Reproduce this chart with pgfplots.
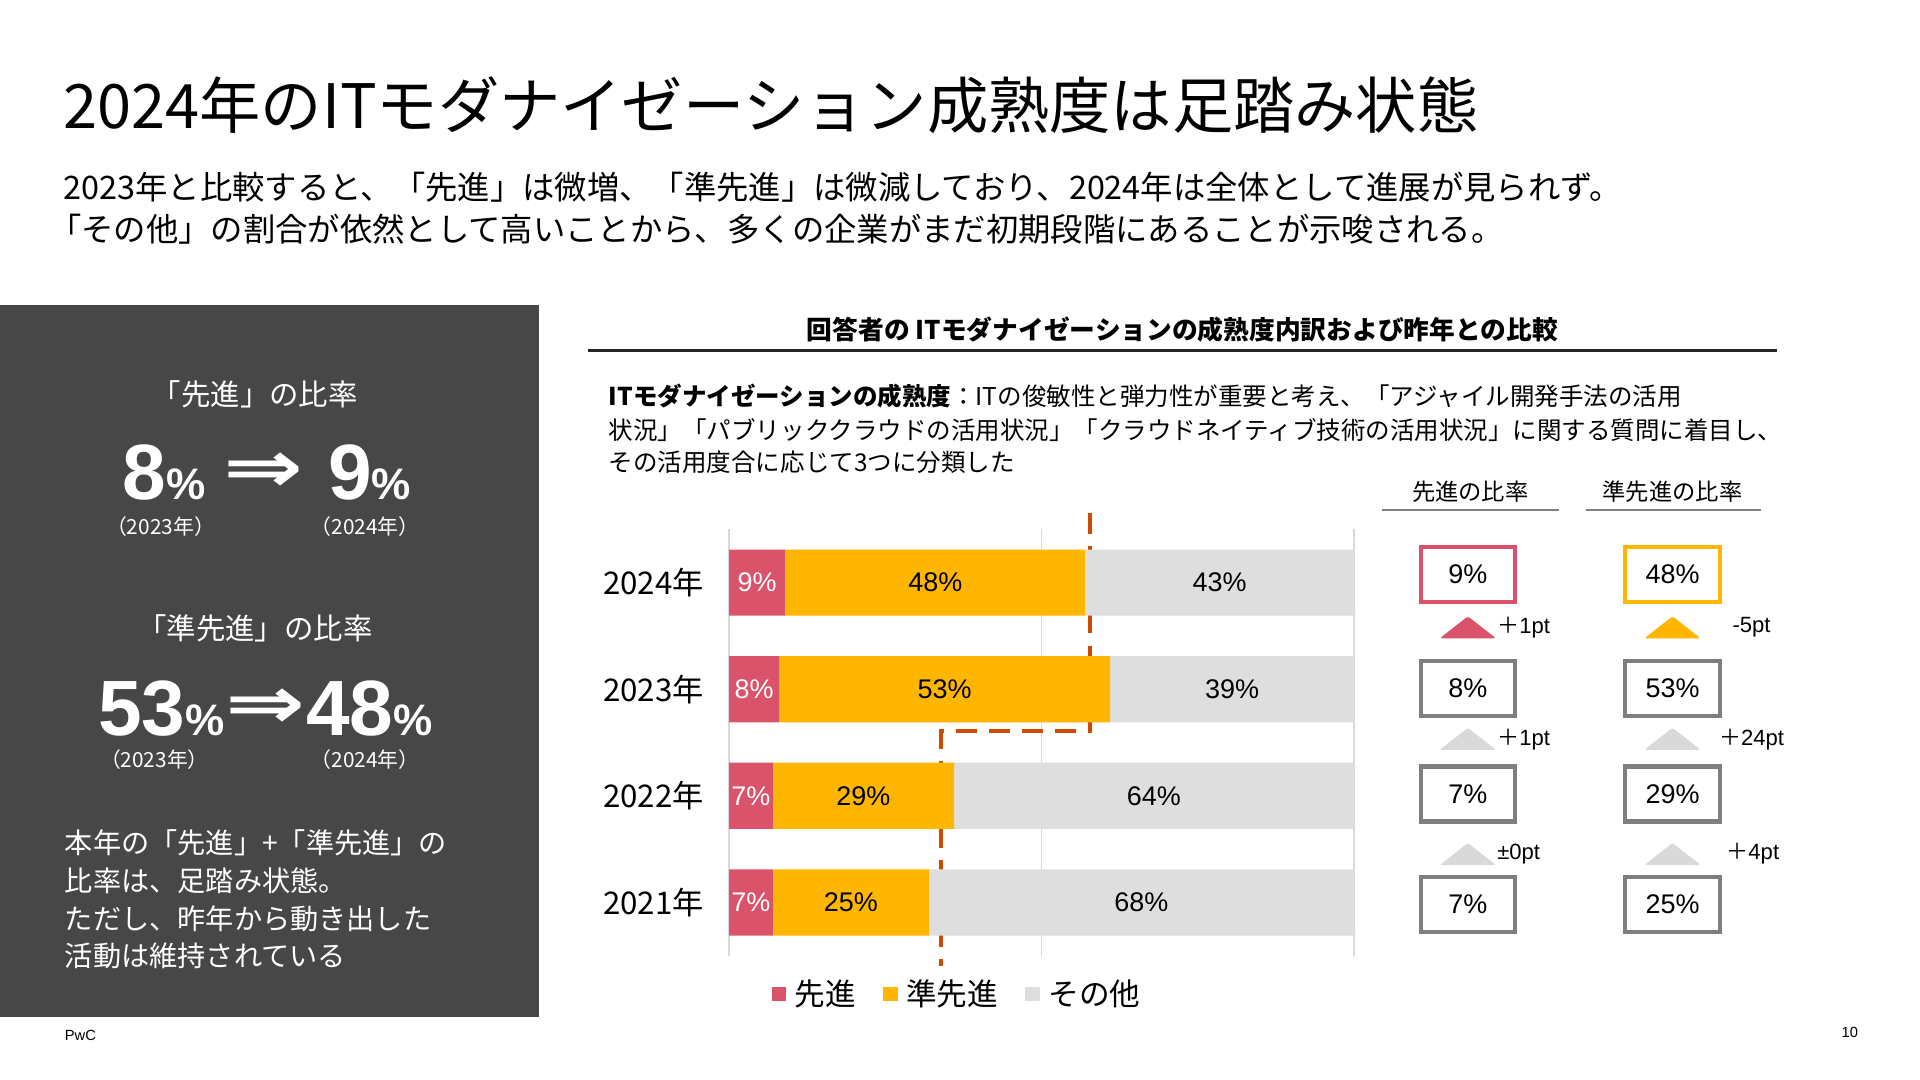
\documentclass[border=0pt]{standalone}
\usepackage{fontspec}
\usepackage{pgfplots}
\usepackage{pgfplotstable}
\pgfplotsset{compat=1.18}
\setmainfont{Noto Sans CJK JP}
\newfontfamily\lat{Liberation Sans}
\newfontfamily\arr{DejaVu Sans}
\definecolor{sred}{HTML}{DB536A}
\definecolor{syel}{HTML}{FFB600}
\definecolor{sgray}{HTML}{DEDEDE}
\definecolor{gridgray}{HTML}{D9D9D9}
\definecolor{boxgray}{HTML}{7F7F7F}
\definecolor{dashc}{HTML}{D04A02}
\definecolor{panel}{HTML}{474747}
\newcommand\fs[2]{\fontsize{#1}{#2}\selectfont}

% share of respondents by maturity (%), 0 = 2021 ... 3 = 2024
\pgfplotstableread{
pos adv semi other
0   7   25   68
1   7   29   64
2   8   53   39
3   9   48   43
}\maturity

\begin{document}
\begin{tikzpicture}[x=1pt,y=-1pt,t/.style={inner sep=0pt,outer sep=0pt}]
\fill[white] (0,0) rectangle (1567,881);

% heading
\node[t,anchor=west] at (52,86) {\fs{50}{60}2024年のITモダナイゼーション成熟度は足踏み状態};
\node[t,anchor=west] at (52,153) {\fs{26.4}{31}2023年と比較すると、「先進」は微増、「準先進」は微減しており、2024年は全体として進展が見られず。};
\node[t,anchor=west] at (40,187) {\fs{26.4}{31}「その他」の割合が依然として高いことから、多くの企業がまだ初期段階にあることが示唆される。};

% left panel
\fill[panel] (0,249) rectangle (440,830);
\begin{scope}[text=white]
\node[t] at (208,322) {\fs{24}{28}「先進」の比率};
\node[t,anchor=base west] at (100,408) {\lat\bfseries\fs{64}{70}8\fs{36}{40}\%};
\node[t] at (215,386) {\arr\bfseries\fs{60}{64}\scalebox{1.3}[1]{⇒}};
\node[t,anchor=base west] at (268,408) {\lat\bfseries\fs{64}{70}9\fs{36}{40}\%};
\node[t] at (131,430) {\fs{17}{20}（2023年）};
\node[t] at (298,430) {\fs{17}{20}（2024年）};
\node[t] at (208,513) {\fs{24}{28}「準先進」の比率};
\node[t,anchor=base west] at (80,600) {\lat\bfseries\fs{64}{70}53\fs{36}{40}\%};
\node[t] at (217,578) {\arr\bfseries\fs{60}{64}\scalebox{1.3}[1]{⇒}};
\node[t,anchor=base west] at (250,600) {\lat\bfseries\fs{64}{70}48\fs{36}{40}\%};
\node[t] at (126,620) {\fs{17}{20}（2023年）};
\node[t] at (298,620) {\fs{17}{20}（2024年）};
\node[t,anchor=west] at (53,688) {\fs{23}{28}本年の「先進」+「準先進」の};
\node[t,anchor=west] at (53,719) {\fs{23}{28}比率は、足踏み状態。};
\node[t,anchor=west] at (53,750) {\fs{23}{28}ただし、昨年から動き出した};
\node[t,anchor=west] at (53,780) {\fs{23}{28}活動は維持されている};
\end{scope}
\node[t,anchor=west] at (53,845) {\lat\fs{12}{14}PwC};
\node[t,anchor=west] at (1503,843) {\lat\fs{12}{14}10};

% chart heading and note
\node[t] at (965,269) {\bfseries\fs{21}{25}回答者の ITモダナイゼーションの成熟度内訳および昨年との比較};
\draw[line width=2pt,black!85] (480,286) -- (1450,286);
\node[t,anchor=west] at (497,323) {\fs{20}{24}{\bfseries ITモダナイゼーションの成熟度}：ITの俊敏性と弾力性が重要と考え、「アジャイル開発手法の活用};
\node[t,anchor=west] at (497,351) {\fs{20}{24}状況」「パブリッククラウドの活用状況」「クラウドネイティブ技術の活用状況」に関する質問に着目し、};
\node[t,anchor=west] at (497,377) {\fs{20}{24}その活用度合に応じて3つに分類した};

% stacked bars
\begin{axis}[
  at={(595pt,-432pt)}, anchor=north west,
  scale only axis, width=510pt, height=348pt,
  xbar stacked, bar width=54pt,
  xmin=0, xmax=100, ymin=-0.5, ymax=3.5,
  xtick={0,50,100}, xticklabel=\empty, xmajorgrids,
  grid style={draw=gridgray, line width=1pt},
  ytick={0,1,2,3}, yticklabels={2021年,2022年,2023年,2024年},
  yticklabel style={font=\fs{25.5}{30}, xshift=-17pt},
  axis line style={draw=none}, major tick length=0pt,
  clip=false,
  legend style={at={(0.365,-0.045)}, anchor=north, draw=none, fill=none,
    legend columns=3, font=\fs{25}{30},
    /tikz/every even column/.append style={column sep=20pt}},
  legend image code/.code={\fill[#1] (0pt,-6pt) rectangle (12pt,6pt); \path (17pt,0pt);},
  point meta=explicit symbolic,
  nodes near coords={\pgfplotspointmeta\%},
  every node near coord/.append style={font=\lat\fs{22}{26}, anchor=center},
]
\addplot[fill=sred, draw=none, every node near coord/.append style={text=white}]
  table[x=adv, y=pos, meta=adv] {\maturity};
\addplot[fill=syel, draw=none, every node near coord/.append style={text=black}]
  table[x=semi, y=pos, meta=semi] {\maturity};
\addplot[fill=sgray, draw=none, every node near coord/.append style={text=black}]
  table[x=other, y=pos, meta=other] {\maturity};
\legend{先進,準先進,その他}
\draw[dashc, line width=3.5pt, dash pattern=on 17pt off 10pt]
  (axis cs:57.8,3.65) -- (axis cs:57.8,1.61) -- (axis cs:33.9,1.61) -- (axis cs:33.9,-0.6);
\end{axis}

% comparison columns
\node[t] at (1200,401) {\fs{19}{23}先進の比率};
\node[t] at (1365,401) {\fs{19}{23}準先進の比率};
\draw[boxgray,line width=1.5pt] (1128,416) -- (1272,416);
\draw[boxgray,line width=1.5pt] (1294,416) -- (1437,416);
\tikzset{bx/.style={t,line width=3.5pt,minimum width=77pt,minimum height=45pt,font=\lat\fs{22}{26}}}
\node[bx,draw=sred] at (1198,469) {9\%};
\node[bx,draw=boxgray] at (1198,562) {8\%};
\node[bx,draw=boxgray] at (1198,648) {7\%};
\node[bx,draw=boxgray] at (1198,738) {7\%};
\node[bx,draw=syel] at (1365,469) {48\%};
\node[bx,draw=boxgray] at (1365,562) {53\%};
\node[bx,draw=boxgray] at (1365,648) {29\%};
\node[bx,draw=boxgray] at (1365,738) {25\%};
\foreach \cx/\cy/\cc in {1198/521/sred, 1198/612/gridgray, 1198/706/gridgray,
                          1365/521/syel, 1365/612/gridgray, 1365/706/gridgray}
  \fill[\cc, rounded corners=2pt] (\cx-23,\cy) -- (\cx,\cy-18) -- (\cx+23,\cy) -- cycle;
\tikzset{dl/.style={t,anchor=west,font=\lat\fs{18}{22}}}
\node[dl] at (1222,512) {{\rmfamily ＋}1pt};
\node[dl] at (1222,604) {{\rmfamily ＋}1pt};
\node[dl] at (1222,697) {±0pt};
\node[dl] at (1414,512) {-5pt};
\node[dl] at (1403,604) {{\rmfamily ＋}24pt};
\node[dl] at (1409,697) {{\rmfamily ＋}4pt};

\pgfresetboundingbox
\path (0,0) rectangle (1567,881);
\end{tikzpicture}
\end{document}
